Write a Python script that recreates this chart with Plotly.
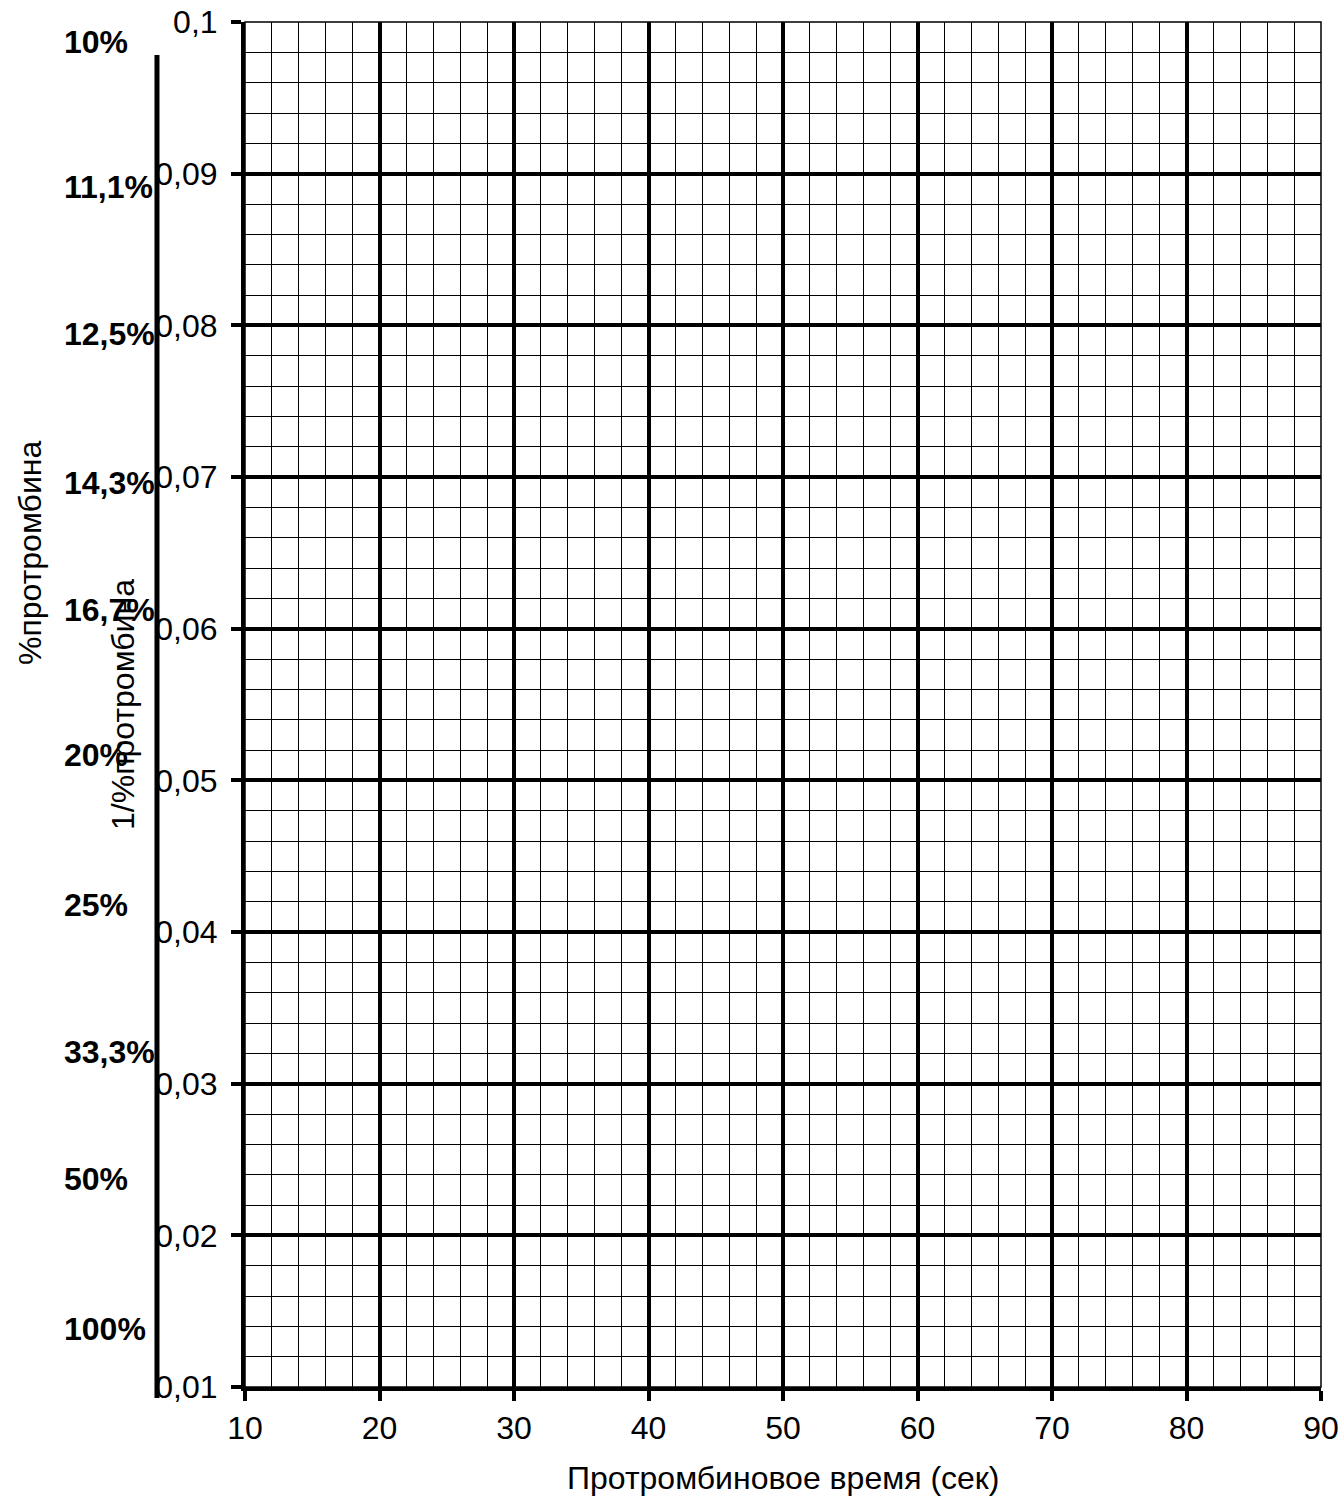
import plotly.graph_objects as go

# Axis values and labels
x_ticks = [10, 20, 30, 40, 50, 60, 70, 80, 90]
x_ticklabels = ["10", "20", "30", "40", "50", "60", "70", "80", "90"]
y_ticks = [0.01, 0.02, 0.03, 0.04, 0.05, 0.06, 0.07, 0.08, 0.09, 0.1]
y_ticklabels = ["0,01", "0,02", "0,03", "0,04", "0,05", "0,06", "0,07", "0,08", "0,09", "0,1"]
pct_labels = ["10%", "11,1%", "12,5%", "14,3%", "16,7%", "20%", "25%", "33,3%", "50%", "100%"]
pct_label_y = [0.0987, 0.0891, 0.0794, 0.0696, 0.0612, 0.0517, 0.0418, 0.0321, 0.0237, 0.0138]

x_title = "Протромбиновое время (сек)"
y_title = "1/%протромбина"
left_title = "%протромбина"

FONT = "Arial, 'Liberation Sans', sans-serif"
FS = 32

fig = go.Figure()
fig.add_trace(go.Scatter(x=[], y=[], mode="markers", showlegend=False))

fig.update_layout(
    width=1341, height=1499,
    margin=dict(l=245, r=20, t=22, b=112),
    paper_bgcolor="white", plot_bgcolor="white",
    font=dict(family=FONT, size=FS, color="black"),
    showlegend=False,
)

fig.update_xaxes(
    range=[10, 90], tickvals=x_ticks, ticktext=x_ticklabels,
    showgrid=True, gridcolor="black", gridwidth=4,
    showline=True, linecolor="black", linewidth=4, mirror=False,
    ticks="outside", ticklen=10, tickwidth=4, tickcolor="black",
    ticklabelstandoff=0, ticklabeloverflow="allow",
    minor=dict(dtick=2, showgrid=True, gridcolor="black", gridwidth=1, ticks=""),
    zeroline=False,
    automargin=False,
)
fig.update_yaxes(
    range=[0.01, 0.1], tickvals=y_ticks, ticktext=y_ticklabels,
    showgrid=True, gridcolor="black", gridwidth=4,
    showline=True, linecolor="black", linewidth=4, mirror=False,
    ticks="outside", ticklen=10, tickwidth=4, tickcolor="black",
    ticklabelstandoff=7, ticklabeloverflow="allow",
    minor=dict(dtick=0.002, tick0=0.01, showgrid=True, gridcolor="black", gridwidth=1, ticks=""),
    zeroline=False,
    title=dict(text=y_title, font=dict(size=FS), standoff=12),
    automargin=False,
)

# thin plot-area border
fig.add_shape(type="rect", xref="paper", yref="paper", x0=0, x1=1, y0=0, y1=1,
              line=dict(color="black", width=1.5), layer="above")

# thick vertical scale line at left
fig.add_shape(type="line", xref="paper", yref="paper", x0=-0.0818, x1=-0.0818,
              y0=-0.008, y1=0.9758, line=dict(color="black", width=5))

for lab, yv in zip(pct_labels, pct_label_y):
    fig.add_annotation(text="<b>" + lab + "</b>", xref="paper", yref="y",
                       x=-0.1701, y=yv, xanchor="left", yanchor="middle",
                       showarrow=False, font=dict(size=FS, family=FONT))

fig.add_annotation(text=left_title, xref="paper", yref="paper", x=-0.1998, y=0.611,
                   textangle=-90, showarrow=False, xanchor="center", yanchor="middle",
                   font=dict(size=FS, family=FONT))

# x-axis title
fig.add_annotation(text=x_title, xref="paper", yref="paper", x=0.5, y=-0.0667,
                   showarrow=False, xanchor="center", yanchor="middle",
                   font=dict(size=FS, family=FONT))

fig.write_html(
    "out.html",
    config={"displayModeBar": False},
    post_script="document.body.style.margin='0';document.body.style.overflow='hidden';",
)
